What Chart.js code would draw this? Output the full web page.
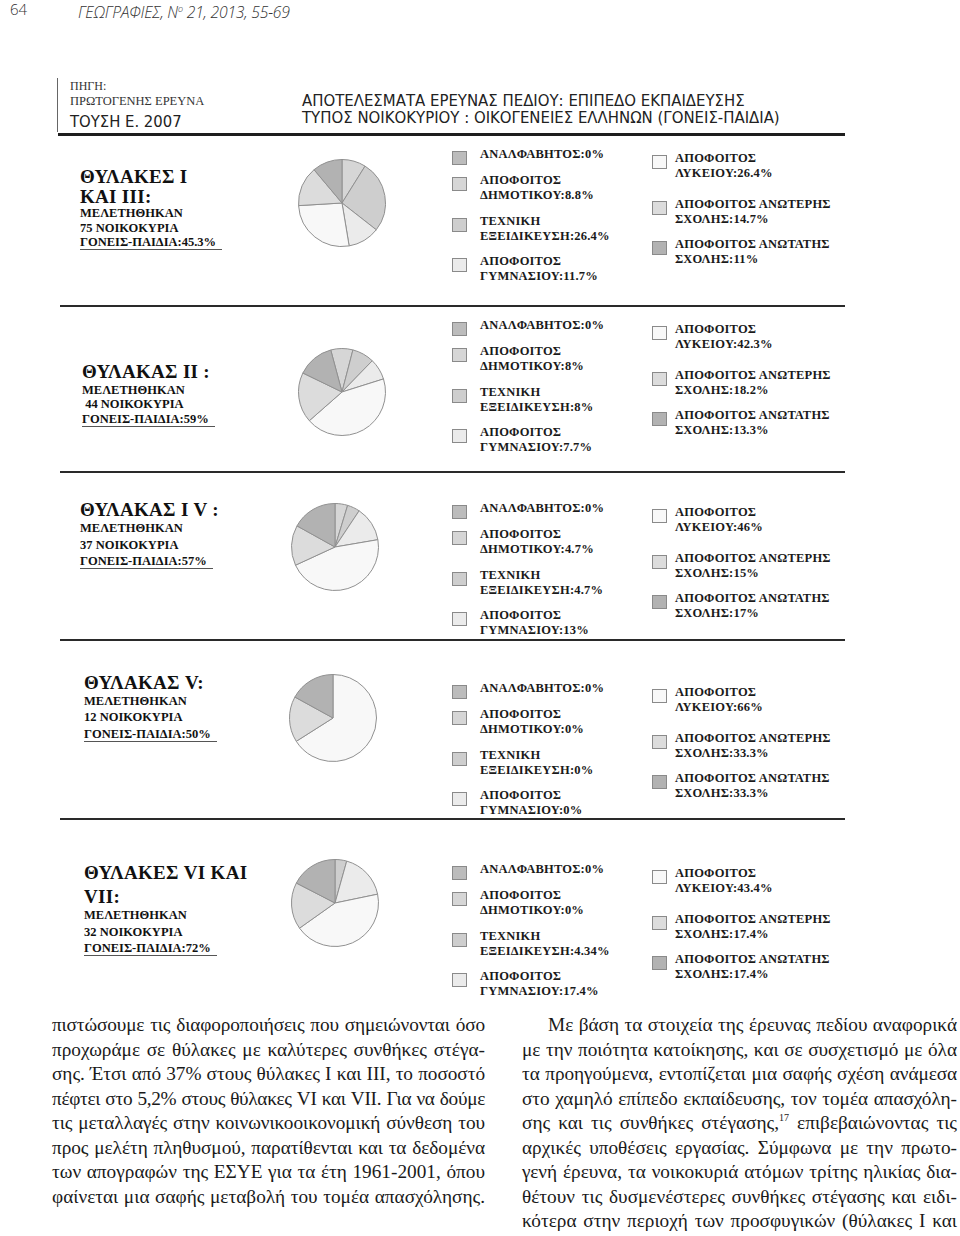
<!DOCTYPE html>
<html>
<head>
<meta charset="utf-8">
<script src="https://cdn.jsdelivr.net/npm/chart.js@4.4.0/dist/chart.umd.min.js"></script>
<style>
  html, body { margin: 0; padding: 0; background: #fff; }
  #page { position: relative; width: 960px; height: 1236px; overflow: hidden; color: #111; }
  .abs { position: absolute; white-space: nowrap; }
  .serif { font-family: "Liberation Serif", "DejaVu Serif", serif; }
  .hdr { font-family: "Liberation Sans Narrow", "DejaVu Sans Condensed", sans-serif; font-size: 16.6px; color: #222; }
  .ttl { font-family: "Liberation Serif", serif; font-weight: bold; font-size: 19px; letter-spacing: 0.3px; }
  .sub { font-family: "Liberation Serif", serif; font-weight: bold; font-size: 12.5px; }
  .leg { font-family: "Liberation Serif", serif; font-weight: bold; font-size: 12.5px; letter-spacing: 0.2px; color: #1a1a1a; }
  .box { position: absolute; width: 15px; height: 14px; border: 1px solid #8a8a8a; box-sizing: border-box; }
  .rule { position: absolute; background: #222; }
  .body { position: absolute; font-family: "Liberation Serif", serif; font-size: 19.3px; line-height: 24.5px; height: 24.5px;
          white-space: nowrap; color: #1a1a1a; }
  .body.just { text-align: justify; text-align-last: justify; }
  .body sup { font-size: 10px; line-height: 0; vertical-align: 8px; }
  canvas { position: absolute; }
</style>
</head>
<body>
<div id="page"></div>
<script>
// categories of education level, in the order the slices run clockwise from the top
const categories = ['ΑΝΑΛΦΑΒΗΤΟΣ', 'ΑΠΟΦΟΙΤΟΣ ΔΗΜΟΤΙΚΟΥ', 'ΤΕΧΝΙΚΗ ΕΞΕΙΔΙΚΕΥΣΗ', 'ΑΠΟΦΟΙΤΟΣ ΓΥΜΝΑΣΙΟΥ',
                    'ΑΠΟΦΟΙΤΟΣ ΛΥΚΕΙΟΥ', 'ΑΠΟΦΟΙΤΟΣ ΑΝΩΤΕΡΗΣ ΣΧΟΛΗΣ', 'ΑΠΟΦΟΙΤΟΣ ΑΝΩΤΑΤΗΣ ΣΧΟΛΗΣ'];
const legendLines = [['ΑΝΑΛΦΑΒΗΤΟΣ'], ['ΑΠΟΦΟΙΤΟΣ', 'ΔΗΜΟΤΙΚΟΥ'], ['ΤΕΧΝΙΚΗ', 'ΕΞΕΙΔΙΚΕΥΣΗ'], ['ΑΠΟΦΟΙΤΟΣ', 'ΓΥΜΝΑΣΙΟΥ'],
                     ['ΑΠΟΦΟΙΤΟΣ', 'ΛΥΚΕΙΟΥ'], ['ΑΠΟΦΟΙΤΟΣ ΑΝΩΤΕΡΗΣ', 'ΣΧΟΛΗΣ'], ['ΑΠΟΦΟΙΤΟΣ ΑΝΩΤΑΤΗΣ', 'ΣΧΟΛΗΣ']];
const sliceColors = ['#bcbcbc', '#d6d6d6', '#cecece', '#ebebeb', '#f8f8f8', '#dcdcdc', '#b2b2b2'];

// zones (θύλακες)
const zoneTitles = [['ΘΥΛΑΚΕΣ Ι', 'ΚΑΙ ΙΙΙ:'], ['ΘΥΛΑΚΑΣ ΙΙ :'], ['ΘΥΛΑΚΑΣ  Ι V :'], ['ΘΥΛΑΚΑΣ  V:'], ['ΘΥΛΑΚΕΣ VI ΚΑΙ', 'VII:']];
const households = ['75', ' 44', '37', '12', '32'];
const parentsChildren = ['45.3%', '59%', '57%', '50%', '72%'];

// printed percentages in the legends
const pctZone1 = ['0%', '8.8%', '26.4%', '11.7%', '26.4%', '14.7%', '11%'];
const pctZone2 = ['0%', '8%', '8%', '7.7%', '42.3%', '18.2%', '13.3%'];
const pctZone3 = ['0%', '4.7%', '4.7%', '13%', '46%', '15%', '17%'];
const pctZone4 = ['0%', '0%', '0%', '0%', '66%', '33.3%', '33.3%'];
const pctZone5 = ['0%', '0%', '4.34%', '17.4%', '43.4%', '17.4%', '17.4%'];

// slice sizes as drawn in the pies
const valZone1 = [0, 8.8, 26.4, 11.7, 26.4, 14.7, 11];
const valZone2 = [0, 8, 8, 7.7, 42.3, 18.2, 13.3];
const valZone3 = [0, 4.7, 4.7, 13, 46, 15, 17];
const valZone4 = [0, 0, 0, 0, 66, 17, 17];
const valZone5 = [0, 0, 4.34, 17.4, 43.4, 17.4, 17.4];

const pcts = [pctZone1, pctZone2, pctZone3, pctZone4, pctZone5];
const vals = [valZone1, valZone2, valZone3, valZone4, valZone5];
const rotations = [0, -15, 0, 0, 0];

// layout of each zone block
const layout = [
  { tx: 80, ty: [177, 197], sy: [213, 228, 242], cx: 342, cy: 203, ly: 154 },
  { tx: 82, ty: [372], sy: [390, 404, 419], cx: 342, cy: 392, ly: 325 },
  { tx: 80, ty: [510], sy: [528, 545, 561], cx: 335, cy: 547, ly: 508 },
  { tx: 84, ty: [683], sy: [701, 717, 734], cx: 333, cy: 718, ly: 688 },
  { tx: 84, ty: [873, 897], sy: [915, 932, 948], cx: 335, cy: 903, ly: 869 }
];

const leftText = [
  'πιστώσουμε τις διαφοροποιήσεις που σημειώνονται όσο',
  'προχωράμε σε θύλακες με καλύτερες συνθήκες στέγα-',
  'σης. Έτσι από 37% στους θύλακες Ι και ΙΙΙ, το ποσοστό',
  'πέφτει στο 5,2% στους θύλακες VI και VII. Για να δούμε',
  'τις μεταλλαγές στην κοινωνικοοικονομική σύνθεση του',
  'προς μελέτη πληθυσμού, παρατίθενται και τα δεδομένα',
  'των απογραφών της ΕΣΥΕ για τα έτη 1961-2001, όπου',
  'φαίνεται μια σαφής μεταβολή του τομέα απασχόλησης.'
];
const rightText = [
  'Με βάση τα στοιχεία της έρευνας πεδίου αναφορικά',
  'με την ποιότητα κατοίκησης, και σε συσχετισμό με όλα',
  'τα προηγούμενα, εντοπίζεται μια σαφής σχέση ανάμεσα',
  'στο χαμηλό επίπεδο εκπαίδευσης, τον τομέα απασχόλη-',
  'σης και τις συνθήκες στέγασης,<sup>17</sup> επιβεβαιώνοντας τις',
  'αρχικές υποθέσεις εργασίας. Σύμφωνα με την πρωτο-',
  'γενή έρευνα, τα νοικοκυριά ατόμων τρίτης ηλικίας δια-',
  'θέτουν τις δυσμενέστερες συνθήκες στέγασης και ειδι-',
  'κότερα στην περιοχή των προσφυγικών (θύλακες Ι και'
];

const page = document.getElementById('page');

function text(str, x, yc, cls, lh, extra) {
  const d = document.createElement('div');
  d.className = 'abs ' + cls;
  d.style.left = x + 'px';
  d.style.top = (yc - lh / 2) + 'px';
  d.style.lineHeight = lh + 'px';
  d.innerHTML = str;
  if (extra) Object.assign(d.style, extra);
  page.appendChild(d);
  return d;
}
function rule(x, y, w, h, color) {
  const d = document.createElement('div');
  d.className = 'rule';
  Object.assign(d.style, { left: x + 'px', top: y + 'px', width: w + 'px', height: h + 'px' });
  if (color) d.style.background = color;
  page.appendChild(d);
}

// running head
text('64', 10, 9, '', 18, { fontFamily: '"Open Sans", sans-serif', fontWeight: 300, fontSize: '15px', color: '#333' });
text('ΓΕΩΓΡΑΦΙΕΣ, N<sup style="font-size:9px">ο</sup> 21, 2013, 55-69', 78, 9, '', 18,
     { fontFamily: '"Open Sans", sans-serif', fontWeight: 300, fontStyle: 'italic', fontSize: '15.7px', color: '#333', letterSpacing: '-0.2px' });

// figure header
rule(57, 78, 1, 54, '#666');
text('ΠΗΓΗ:', 70, 86, 'serif', 14, { fontSize: '12px', color: '#333' });
text('ΠΡΩΤΟΓΕΝΗΣ ΕΡΕΥΝΑ', 70, 101, 'serif', 14, { fontSize: '12.5px', color: '#333' });
text('ΤΟΥΣΗ Ε. 2007', 70, 122, 'hdr', 18, { fontSize: '16.5px' });
text('ΑΠΟΤΕΛΕΣΜΑΤΑ ΕΡΕΥΝΑΣ ΠΕΔΙΟΥ: ΕΠΙΠΕΔΟ ΕΚΠΑΙΔΕΥΣΗΣ', 302, 101, 'hdr', 18);
text('ΤΥΠΟΣ ΝΟΙΚΟΚΥΡΙΟΥ : ΟΙΚΟΓΕΝΕΙΕΣ ΕΛΛΗΝΩΝ (ΓΟΝΕΙΣ-ΠΑΙΔΙΑ)', 302, 118, 'hdr', 18);
rule(58, 133, 787, 3, '#1e1e1e');
[305, 471, 639, 818].forEach(y => rule(60, y, 785, 2, '#2a2a2a'));

const leftRows = [0, 26, 67, 107];
const rightRows = [4, 50, 90];

layout.forEach((L, z) => {
  // zone title block
  zoneTitles[z].forEach((t, i) => text(t, L.tx, L.ty[i], 'ttl', 22));
  text('ΜΕΛΕΤΗΘΗΚΑΝ', L.tx, L.sy[0], 'sub', 15);
  text(households[z].replace(' ', '&nbsp;') + ' ΝΟΙΚΟΚΥΡΙΑ', L.tx, L.sy[1], 'sub', 15);
  text('ΓΟΝΕΙΣ-ΠΑΙΔΙΑ:' + parentsChildren[z], L.tx, L.sy[2], 'sub', 15,
       { borderBottom: '1px solid #555', paddingRight: '6px', lineHeight: '14px' });

  // legend
  categories.forEach((c, k) => {
    const left = k < 4;
    const row = left ? leftRows[k] : rightRows[k - 4];
    const yc = L.ly + row;
    const bx = left ? 452 : 652;
    const b = document.createElement('div');
    b.className = 'box';
    Object.assign(b.style, { left: bx + 'px', top: (yc - 3) + 'px', background: sliceColors[k] });
    page.appendChild(b);
    const lines = legendLines[k];
    lines.forEach((ln, j) => {
      const s = j === lines.length - 1 ? ln + ':' + pcts[z][k] : ln;
      text(s, bx + (left ? 28 : 23), yc + j * 15, 'leg', 15);
    });
  });

  // pie
  const size = 88;
  const cv = document.createElement('canvas');
  cv.width = size; cv.height = size;
  cv.style.left = (L.cx - size / 2) + 'px';
  cv.style.top = (L.cy - size / 2) + 'px';
  page.appendChild(cv);
  new Chart(cv.getContext('2d'), {
    type: 'pie',
    data: {
      labels: categories,
      datasets: [{
        data: vals[z],
        backgroundColor: sliceColors,
        borderColor: '#909090',
        borderWidth: 1
      }]
    },
    options: {
      responsive: false,
      animation: false,
      rotation: rotations[z],
      layout: { padding: 0 },
      plugins: { legend: { display: false }, tooltip: { enabled: false } }
    }
  });
});

// body text, one justified line per div; tighten letters if a line is too long
function bodyLine(t, x, w, top) {
  const d = document.createElement('div');
  d.className = 'body';
  Object.assign(d.style, { left: x + 'px', width: w + 'px', top: top + 'px' });
  d.innerHTML = '<span>' + t + '</span>';
  page.appendChild(d);
  const sp = d.firstChild;
  let ls = 0;
  while (sp.getBoundingClientRect().width > w - 4 && ls > -1.2) {
    ls -= 0.05;
    d.style.letterSpacing = ls + 'px';
  }
  d.classList.add('just');
}
leftText.forEach((t, i) => bodyLine(t, 52, 433, 1013 + i * 24.5));
rightText.forEach((t, i) => {
  const x = i === 0 ? 548 : 522;
  bodyLine(t, x, 957 - x, 1013 + i * 24.5);
});
</script>
</body>
</html>
